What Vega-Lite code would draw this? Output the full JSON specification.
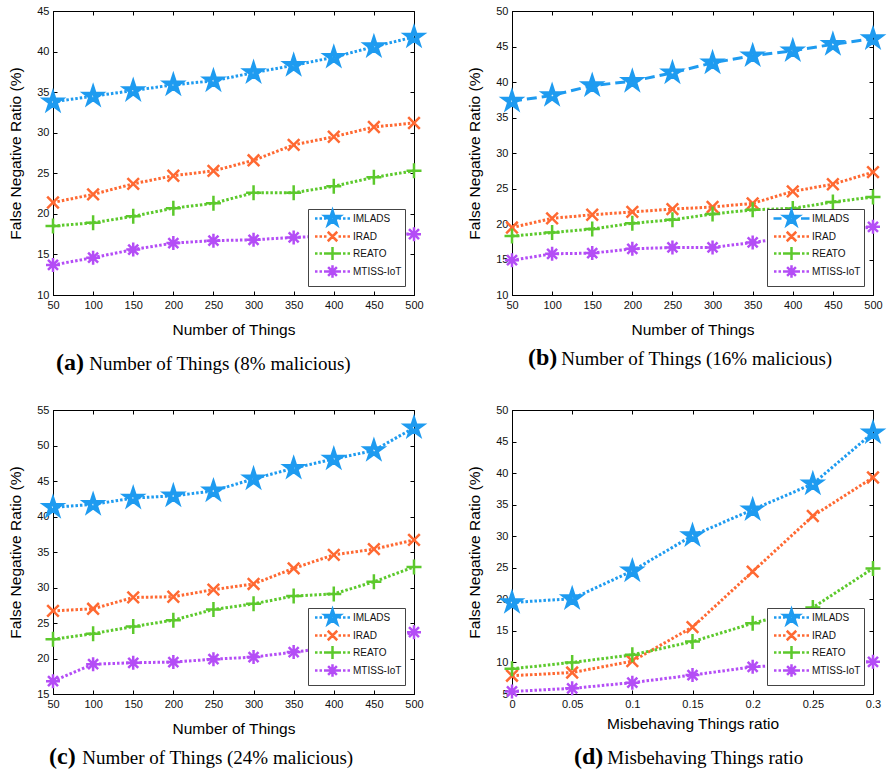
{
  "$schema": "https://vega.github.io/schema/vega-lite/v6.json",
  "background": "white",
  "padding": {"left": 8, "top": 4, "right": 2, "bottom": 2},
  "datasets": {
    "a": [
      {"x": 50, "s": "IMLADS", "v": 33.8}, {"x": 100, "s": "IMLADS", "v": 34.5}, {"x": 150, "s": "IMLADS", "v": 35.2}, {"x": 200, "s": "IMLADS", "v": 35.9}, {"x": 250, "s": "IMLADS", "v": 36.4}, {"x": 300, "s": "IMLADS", "v": 37.4}, {"x": 350, "s": "IMLADS", "v": 38.3}, {"x": 400, "s": "IMLADS", "v": 39.3}, {"x": 450, "s": "IMLADS", "v": 40.6}, {"x": 500, "s": "IMLADS", "v": 41.8},
      {"x": 50, "s": "IRAD", "v": 21.4}, {"x": 100, "s": "IRAD", "v": 22.4}, {"x": 150, "s": "IRAD", "v": 23.7}, {"x": 200, "s": "IRAD", "v": 24.7}, {"x": 250, "s": "IRAD", "v": 25.3}, {"x": 300, "s": "IRAD", "v": 26.6}, {"x": 350, "s": "IRAD", "v": 28.5}, {"x": 400, "s": "IRAD", "v": 29.5}, {"x": 450, "s": "IRAD", "v": 30.7}, {"x": 500, "s": "IRAD", "v": 31.2},
      {"x": 50, "s": "REATO", "v": 18.5}, {"x": 100, "s": "REATO", "v": 18.9}, {"x": 150, "s": "REATO", "v": 19.7}, {"x": 200, "s": "REATO", "v": 20.7}, {"x": 250, "s": "REATO", "v": 21.3}, {"x": 300, "s": "REATO", "v": 22.6}, {"x": 350, "s": "REATO", "v": 22.6}, {"x": 400, "s": "REATO", "v": 23.4}, {"x": 450, "s": "REATO", "v": 24.5}, {"x": 500, "s": "REATO", "v": 25.3},
      {"x": 50, "s": "MTISS-IoT", "v": 13.7}, {"x": 100, "s": "MTISS-IoT", "v": 14.6}, {"x": 150, "s": "MTISS-IoT", "v": 15.6}, {"x": 200, "s": "MTISS-IoT", "v": 16.4}, {"x": 250, "s": "MTISS-IoT", "v": 16.7}, {"x": 300, "s": "MTISS-IoT", "v": 16.8}, {"x": 350, "s": "MTISS-IoT", "v": 17.1}, {"x": 400, "s": "MTISS-IoT", "v": 17.3}, {"x": 450, "s": "MTISS-IoT", "v": 17.6}, {"x": 500, "s": "MTISS-IoT", "v": 17.5}
    ],
    "b": [
      {"x": 50, "s": "IMLADS", "v": 37.3}, {"x": 100, "s": "IMLADS", "v": 38.1}, {"x": 150, "s": "IMLADS", "v": 39.5}, {"x": 200, "s": "IMLADS", "v": 40.1}, {"x": 250, "s": "IMLADS", "v": 41.3}, {"x": 300, "s": "IMLADS", "v": 42.7}, {"x": 350, "s": "IMLADS", "v": 43.7}, {"x": 400, "s": "IMLADS", "v": 44.4}, {"x": 450, "s": "IMLADS", "v": 45.3}, {"x": 500, "s": "IMLADS", "v": 46.1},
      {"x": 50, "s": "IRAD", "v": 19.5}, {"x": 100, "s": "IRAD", "v": 20.8}, {"x": 150, "s": "IRAD", "v": 21.3}, {"x": 200, "s": "IRAD", "v": 21.7}, {"x": 250, "s": "IRAD", "v": 22.1}, {"x": 300, "s": "IRAD", "v": 22.4}, {"x": 350, "s": "IRAD", "v": 22.9}, {"x": 400, "s": "IRAD", "v": 24.6}, {"x": 450, "s": "IRAD", "v": 25.6}, {"x": 500, "s": "IRAD", "v": 27.3},
      {"x": 50, "s": "REATO", "v": 18.3}, {"x": 100, "s": "REATO", "v": 18.8}, {"x": 150, "s": "REATO", "v": 19.3}, {"x": 200, "s": "REATO", "v": 20.1}, {"x": 250, "s": "REATO", "v": 20.6}, {"x": 300, "s": "REATO", "v": 21.4}, {"x": 350, "s": "REATO", "v": 22.0}, {"x": 400, "s": "REATO", "v": 22.2}, {"x": 450, "s": "REATO", "v": 23.1}, {"x": 500, "s": "REATO", "v": 23.8},
      {"x": 50, "s": "MTISS-IoT", "v": 14.9}, {"x": 100, "s": "MTISS-IoT", "v": 15.8}, {"x": 150, "s": "MTISS-IoT", "v": 15.9}, {"x": 200, "s": "MTISS-IoT", "v": 16.5}, {"x": 250, "s": "MTISS-IoT", "v": 16.7}, {"x": 300, "s": "MTISS-IoT", "v": 16.7}, {"x": 350, "s": "MTISS-IoT", "v": 17.4}, {"x": 400, "s": "MTISS-IoT", "v": 18.2}, {"x": 450, "s": "MTISS-IoT", "v": 18.9}, {"x": 500, "s": "MTISS-IoT", "v": 19.6}
    ],
    "c": [
      {"x": 50, "s": "IMLADS", "v": 41.3}, {"x": 100, "s": "IMLADS", "v": 41.7}, {"x": 150, "s": "IMLADS", "v": 42.6}, {"x": 200, "s": "IMLADS", "v": 42.9}, {"x": 250, "s": "IMLADS", "v": 43.6}, {"x": 300, "s": "IMLADS", "v": 45.3}, {"x": 350, "s": "IMLADS", "v": 46.8}, {"x": 400, "s": "IMLADS", "v": 48.1}, {"x": 450, "s": "IMLADS", "v": 49.3}, {"x": 500, "s": "IMLADS", "v": 52.5},
      {"x": 50, "s": "IRAD", "v": 26.7}, {"x": 100, "s": "IRAD", "v": 27.0}, {"x": 150, "s": "IRAD", "v": 28.6}, {"x": 200, "s": "IRAD", "v": 28.7}, {"x": 250, "s": "IRAD", "v": 29.7}, {"x": 300, "s": "IRAD", "v": 30.5}, {"x": 350, "s": "IRAD", "v": 32.7}, {"x": 400, "s": "IRAD", "v": 34.6}, {"x": 450, "s": "IRAD", "v": 35.4}, {"x": 500, "s": "IRAD", "v": 36.7},
      {"x": 50, "s": "REATO", "v": 22.7}, {"x": 100, "s": "REATO", "v": 23.5}, {"x": 150, "s": "REATO", "v": 24.5}, {"x": 200, "s": "REATO", "v": 25.4}, {"x": 250, "s": "REATO", "v": 26.9}, {"x": 300, "s": "REATO", "v": 27.7}, {"x": 350, "s": "REATO", "v": 28.8}, {"x": 400, "s": "REATO", "v": 29.1}, {"x": 450, "s": "REATO", "v": 30.8}, {"x": 500, "s": "REATO", "v": 32.9},
      {"x": 50, "s": "MTISS-IoT", "v": 16.8}, {"x": 100, "s": "MTISS-IoT", "v": 19.2}, {"x": 150, "s": "MTISS-IoT", "v": 19.4}, {"x": 200, "s": "MTISS-IoT", "v": 19.5}, {"x": 250, "s": "MTISS-IoT", "v": 19.9}, {"x": 300, "s": "MTISS-IoT", "v": 20.2}, {"x": 350, "s": "MTISS-IoT", "v": 20.9}, {"x": 400, "s": "MTISS-IoT", "v": 21.6}, {"x": 450, "s": "MTISS-IoT", "v": 22.4}, {"x": 500, "s": "MTISS-IoT", "v": 23.7}
    ],
    "d": [
      {"x": 0, "s": "IMLADS", "v": 19.5}, {"x": 0.05, "s": "IMLADS", "v": 20.1}, {"x": 0.1, "s": "IMLADS", "v": 24.5}, {"x": 0.15, "s": "IMLADS", "v": 30.1}, {"x": 0.2, "s": "IMLADS", "v": 34.2}, {"x": 0.25, "s": "IMLADS", "v": 38.3}, {"x": 0.3, "s": "IMLADS", "v": 46.4},
      {"x": 0, "s": "IRAD", "v": 7.9}, {"x": 0.05, "s": "IRAD", "v": 8.4}, {"x": 0.1, "s": "IRAD", "v": 10.2}, {"x": 0.15, "s": "IRAD", "v": 15.6}, {"x": 0.2, "s": "IRAD", "v": 24.4}, {"x": 0.25, "s": "IRAD", "v": 33.2}, {"x": 0.3, "s": "IRAD", "v": 39.3},
      {"x": 0, "s": "REATO", "v": 9.0}, {"x": 0.05, "s": "REATO", "v": 10.0}, {"x": 0.1, "s": "REATO", "v": 11.2}, {"x": 0.15, "s": "REATO", "v": 13.3}, {"x": 0.2, "s": "REATO", "v": 16.2}, {"x": 0.25, "s": "REATO", "v": 18.7}, {"x": 0.3, "s": "REATO", "v": 24.9},
      {"x": 0, "s": "MTISS-IoT", "v": 5.4}, {"x": 0.05, "s": "MTISS-IoT", "v": 5.9}, {"x": 0.1, "s": "MTISS-IoT", "v": 6.8}, {"x": 0.15, "s": "MTISS-IoT", "v": 8.0}, {"x": 0.2, "s": "MTISS-IoT", "v": 9.3}, {"x": 0.25, "s": "MTISS-IoT", "v": 9.8}, {"x": 0.3, "s": "MTISS-IoT", "v": 10.1}
    ]
  },
  "columns": 2,
  "spacing": {"column": 37, "row": 28},
  "concat": [
    {
      "width": 361, "height": 284,
      "data": {"name": "a"},
      "title": {"text": "(a)", "subtitle": "\u200b\u00a0\u00a0\u00a0\u00a0\u00a0\u00a0\u00a0Number of Things (8% malicious)", "dx": 3, "offset": 13},
      "layer": [
        {
          "mark": {"type": "line", "strokeWidth": 3, "strokeDash": [2.5, 2]},
          "encoding": {
            "x": {"field": "x", "type": "quantitative", "scale": {"domain": [50, 500]}, "axis": {"orient": "bottom", "values": [50, 100, 150, 200, 250, 300, 350, 400, 450, 500], "title": "Number of Things"}},
            "y": {"field": "v", "type": "quantitative", "scale": {"domain": [10, 45]}, "axis": {"orient": "left", "values": [10, 15, 20, 25, 30, 35, 40, 45], "title": "False Negative Ratio (%)"}},
            "color": {"field": "s", "type": "nominal", "scale": {"domain": ["IMLADS", "IRAD", "REATO", "MTISS-IoT"], "range": ["#1E9BF0", "#FF6932", "#5CC92C", "#B44DF6"]}, "legend": null}
          }
        },
        {
          "mark": {"type": "point", "filled": false, "strokeWidth": 2.5, "size": 400, "opacity": 1},
          "encoding": {
            "x": {"field": "x", "type": "quantitative", "axis": {"orient": "top", "labels": false, "title": null, "domain": false, "values": [50, 100, 150, 200, 250, 300, 350, 400, 450, 500]}},
            "y": {"field": "v", "type": "quantitative", "axis": {"orient": "right", "labels": false, "title": null, "domain": false, "values": [10, 15, 20, 25, 30, 35, 40, 45]}},
            "color": {"field": "s", "type": "nominal", "legend": null},
            "shape": {"field": "s", "type": "nominal", "legend": null, "scale": {"domain": ["IMLADS", "IRAD", "REATO", "MTISS-IoT"], "range": [
              "M0,-1L0.2245,-0.309L0.951,-0.309L0.3633,0.118L0.588,0.809L0,0.382L-0.588,0.809L-0.3633,0.118L-0.951,-0.309L-0.2245,-0.309ZM0,-0.55L0.123,-0.17L0.523,-0.17L0.2,0.065L0.323,0.445L0,0.21L-0.323,0.445L-0.2,0.065L-0.523,-0.17L-0.123,-0.17Z",
              "M-0.58,-0.58L0.58,0.58M-0.58,0.58L0.58,-0.58",
              "M-0.75,0L0.75,0M0,-0.75L0,0.75",
              "M-0.7,0L0.7,0M0,-0.7L0,0.7M-0.5,-0.5L0.5,0.5M-0.5,0.5L0.5,-0.5"]}}
          }
        },
        {
          "transform": [{"filter": "false"}],
          "mark": {"type": "point", "filled": false, "strokeWidth": 2.5, "size": 100, "opacity": 1},
          "encoding": {
            "color": {"field": "s", "type": "nominal", "legend": {}},
            "shape": {"field": "s", "type": "nominal", "legend": {}, "scale": {"domain": ["IMLADS", "IRAD", "REATO", "MTISS-IoT"], "range": [
              "M-3.5,0h0.5M-2.6,0h0.5M-1.7,0h0.5M1.2,0h0.5M2.1,0h0.5M3,0h0.5M0,-1.6L0.359,-0.494L1.522,-0.494L0.582,0.189L0.94,1.294L0,0.611L-0.94,1.294L-0.582,0.189L-1.522,-0.494L-0.359,-0.494ZM0,-0.88L0.197,-0.272L0.837,-0.272L0.32,0.104L0.517,0.712L0,0.336L-0.517,0.712L-0.32,0.104L-0.837,-0.272L-0.197,-0.272Z",
              "M-3.5,0h0.5M-2.6,0h0.5M-1.7,0h0.5M1.2,0h0.5M2.1,0h0.5M3,0h0.5M-0.95,-0.95L0.95,0.95M-0.95,0.95L0.95,-0.95",
              "M-3.5,0h0.5M-2.6,0h0.5M-1.7,0h0.5M1.2,0h0.5M2.1,0h0.5M3,0h0.5M-1.3,0L1.3,0M0,-1.3L0,1.3",
              "M-3.5,0h0.5M-2.6,0h0.5M-1.7,0h0.5M1.2,0h0.5M2.1,0h0.5M3,0h0.5M-1.25,0L1.25,0M0,-1.25L0,1.25M-0.88,-0.88L0.88,0.88M-0.88,0.88L0.88,-0.88"]}}
          }
        }
      ],
      "resolve": {"axis": {"x": "independent", "y": "independent"}, "scale": {"shape": "independent"}, "legend": {"color": "independent", "shape": "independent"}}
    },
    {
      "width": 361, "height": 284,
      "data": {"name": "b"},
      "title": {"text": "(b)", "subtitle": "\u200b\u00a0\u00a0\u00a0\u00a0\u00a0\u00a0\u00a0Number of Things (16% malicious)", "dx": 16, "offset": 8},
      "layer": [
        {
          "mark": {"type": "line", "strokeWidth": 3},
          "encoding": {
            "x": {"field": "x", "type": "quantitative", "scale": {"domain": [50, 500]}, "axis": {"orient": "bottom", "values": [50, 100, 150, 200, 250, 300, 350, 400, 450, 500], "title": "Number of Things"}},
            "y": {"field": "v", "type": "quantitative", "scale": {"domain": [10, 50]}, "axis": {"orient": "left", "values": [10, 15, 20, 25, 30, 35, 40, 45, 50], "title": "False Negative Ratio (%)"}},
            "color": {"field": "s", "type": "nominal", "scale": {"domain": ["IMLADS", "IRAD", "REATO", "MTISS-IoT"], "range": ["#1E9BF0", "#FF6932", "#5CC92C", "#B44DF6"]}, "legend": null},
            "strokeDash": {"field": "s", "type": "nominal", "scale": {"domain": ["IMLADS", "IRAD", "REATO", "MTISS-IoT"], "range": [[10, 5], [2.5, 2], [2.5, 2], [2.5, 2]]}, "legend": null}
          }
        },
        {
          "mark": {"type": "point", "filled": false, "strokeWidth": 2.5, "size": 400, "opacity": 1},
          "encoding": {
            "x": {"field": "x", "type": "quantitative", "axis": {"orient": "top", "labels": false, "title": null, "domain": false, "values": [50, 100, 150, 200, 250, 300, 350, 400, 450, 500]}},
            "y": {"field": "v", "type": "quantitative", "axis": {"orient": "right", "labels": false, "title": null, "domain": false, "values": [10, 15, 20, 25, 30, 35, 40, 45, 50]}},
            "color": {"field": "s", "type": "nominal", "legend": null},
            "shape": {"field": "s", "type": "nominal", "legend": null, "scale": {"domain": ["IMLADS", "IRAD", "REATO", "MTISS-IoT"], "range": [
              "M0,-1L0.2245,-0.309L0.951,-0.309L0.3633,0.118L0.588,0.809L0,0.382L-0.588,0.809L-0.3633,0.118L-0.951,-0.309L-0.2245,-0.309ZM0,-0.55L0.123,-0.17L0.523,-0.17L0.2,0.065L0.323,0.445L0,0.21L-0.323,0.445L-0.2,0.065L-0.523,-0.17L-0.123,-0.17Z",
              "M-0.58,-0.58L0.58,0.58M-0.58,0.58L0.58,-0.58",
              "M-0.75,0L0.75,0M0,-0.75L0,0.75",
              "M-0.7,0L0.7,0M0,-0.7L0,0.7M-0.5,-0.5L0.5,0.5M-0.5,0.5L0.5,-0.5"]}}
          }
        },
        {
          "transform": [{"filter": "false"}],
          "mark": {"type": "point", "filled": false, "strokeWidth": 2.5, "size": 100, "opacity": 1},
          "encoding": {
            "color": {"field": "s", "type": "nominal", "legend": {}},
            "shape": {"field": "s", "type": "nominal", "legend": {}, "scale": {"domain": ["IMLADS", "IRAD", "REATO", "MTISS-IoT"], "range": [
              "M-3.6,0h1.6M1.9,0h1.7M0,-1.6L0.359,-0.494L1.522,-0.494L0.582,0.189L0.94,1.294L0,0.611L-0.94,1.294L-0.582,0.189L-1.522,-0.494L-0.359,-0.494ZM0,-0.88L0.197,-0.272L0.837,-0.272L0.32,0.104L0.517,0.712L0,0.336L-0.517,0.712L-0.32,0.104L-0.837,-0.272L-0.197,-0.272Z",
              "M-3.5,0h0.5M-2.6,0h0.5M-1.7,0h0.5M1.2,0h0.5M2.1,0h0.5M3,0h0.5M-0.95,-0.95L0.95,0.95M-0.95,0.95L0.95,-0.95",
              "M-3.5,0h0.5M-2.6,0h0.5M-1.7,0h0.5M1.2,0h0.5M2.1,0h0.5M3,0h0.5M-1.3,0L1.3,0M0,-1.3L0,1.3",
              "M-3.5,0h0.5M-2.6,0h0.5M-1.7,0h0.5M1.2,0h0.5M2.1,0h0.5M3,0h0.5M-1.25,0L1.25,0M0,-1.25L0,1.25M-0.88,-0.88L0.88,0.88M-0.88,0.88L0.88,-0.88"]}}
          }
        }
      ],
      "resolve": {"axis": {"x": "independent", "y": "independent"}, "scale": {"shape": "independent"}, "legend": {"color": "independent", "shape": "independent"}}
    },
    {
      "width": 361, "height": 284,
      "data": {"name": "c"},
      "title": {"text": "(c)", "subtitle": "\u200b\u00a0\u00a0\u00a0\u00a0\u00a0\u00a0\u00a0Number of Things (24% malicious)", "dx": -4, "offset": 8},
      "layer": [
        {
          "mark": {"type": "line", "strokeWidth": 3, "strokeDash": [2.5, 2]},
          "encoding": {
            "x": {"field": "x", "type": "quantitative", "scale": {"domain": [50, 500]}, "axis": {"orient": "bottom", "values": [50, 100, 150, 200, 250, 300, 350, 400, 450, 500], "title": "Number of Things"}},
            "y": {"field": "v", "type": "quantitative", "scale": {"domain": [15, 55]}, "axis": {"orient": "left", "values": [15, 20, 25, 30, 35, 40, 45, 50, 55], "title": "False Negative Ratio (%)"}},
            "color": {"field": "s", "type": "nominal", "scale": {"domain": ["IMLADS", "IRAD", "REATO", "MTISS-IoT"], "range": ["#1E9BF0", "#FF6932", "#5CC92C", "#B44DF6"]}, "legend": null}
          }
        },
        {
          "mark": {"type": "point", "filled": false, "strokeWidth": 2.5, "size": 400, "opacity": 1},
          "encoding": {
            "x": {"field": "x", "type": "quantitative", "axis": {"orient": "top", "labels": false, "title": null, "domain": false, "values": [50, 100, 150, 200, 250, 300, 350, 400, 450, 500]}},
            "y": {"field": "v", "type": "quantitative", "axis": {"orient": "right", "labels": false, "title": null, "domain": false, "values": [15, 20, 25, 30, 35, 40, 45, 50, 55]}},
            "color": {"field": "s", "type": "nominal", "legend": null},
            "shape": {"field": "s", "type": "nominal", "legend": null, "scale": {"domain": ["IMLADS", "IRAD", "REATO", "MTISS-IoT"], "range": [
              "M0,-1L0.2245,-0.309L0.951,-0.309L0.3633,0.118L0.588,0.809L0,0.382L-0.588,0.809L-0.3633,0.118L-0.951,-0.309L-0.2245,-0.309ZM0,-0.55L0.123,-0.17L0.523,-0.17L0.2,0.065L0.323,0.445L0,0.21L-0.323,0.445L-0.2,0.065L-0.523,-0.17L-0.123,-0.17Z",
              "M-0.58,-0.58L0.58,0.58M-0.58,0.58L0.58,-0.58",
              "M-0.75,0L0.75,0M0,-0.75L0,0.75",
              "M-0.7,0L0.7,0M0,-0.7L0,0.7M-0.5,-0.5L0.5,0.5M-0.5,0.5L0.5,-0.5"]}}
          }
        },
        {
          "transform": [{"filter": "false"}],
          "mark": {"type": "point", "filled": false, "strokeWidth": 2.5, "size": 100, "opacity": 1},
          "encoding": {
            "color": {"field": "s", "type": "nominal", "legend": {}},
            "shape": {"field": "s", "type": "nominal", "legend": {}, "scale": {"domain": ["IMLADS", "IRAD", "REATO", "MTISS-IoT"], "range": [
              "M-3.5,0h0.5M-2.6,0h0.5M-1.7,0h0.5M1.2,0h0.5M2.1,0h0.5M3,0h0.5M0,-1.6L0.359,-0.494L1.522,-0.494L0.582,0.189L0.94,1.294L0,0.611L-0.94,1.294L-0.582,0.189L-1.522,-0.494L-0.359,-0.494ZM0,-0.88L0.197,-0.272L0.837,-0.272L0.32,0.104L0.517,0.712L0,0.336L-0.517,0.712L-0.32,0.104L-0.837,-0.272L-0.197,-0.272Z",
              "M-3.5,0h0.5M-2.6,0h0.5M-1.7,0h0.5M1.2,0h0.5M2.1,0h0.5M3,0h0.5M-0.95,-0.95L0.95,0.95M-0.95,0.95L0.95,-0.95",
              "M-3.5,0h0.5M-2.6,0h0.5M-1.7,0h0.5M1.2,0h0.5M2.1,0h0.5M3,0h0.5M-1.3,0L1.3,0M0,-1.3L0,1.3",
              "M-3.5,0h0.5M-2.6,0h0.5M-1.7,0h0.5M1.2,0h0.5M2.1,0h0.5M3,0h0.5M-1.25,0L1.25,0M0,-1.25L0,1.25M-0.88,-0.88L0.88,0.88M-0.88,0.88L0.88,-0.88"]}}
          }
        }
      ],
      "resolve": {"axis": {"x": "independent", "y": "independent"}, "scale": {"shape": "independent"}, "legend": {"color": "independent", "shape": "independent"}}
    },
    {
      "width": 361, "height": 284,
      "data": {"name": "d"},
      "title": {"text": "(d)", "subtitle": "\u200b\u00a0\u00a0\u00a0\u00a0\u00a0\u00a0\u00a0Misbehaving Things ratio", "dx": 62, "offset": 13},
      "layer": [
        {
          "mark": {"type": "line", "strokeWidth": 3, "strokeDash": [2.5, 2]},
          "encoding": {
            "x": {"field": "x", "type": "quantitative", "scale": {"domain": [0, 0.3]}, "axis": {"orient": "bottom", "values": [0, 0.05, 0.1, 0.15, 0.2, 0.25, 0.3], "format": "~g", "title": "Misbehaving Things ratio", "titlePadding": 7}},
            "y": {"field": "v", "type": "quantitative", "scale": {"domain": [5, 50]}, "axis": {"orient": "left", "values": [5, 10, 15, 20, 25, 30, 35, 40, 45, 50], "title": "False Negative Ratio (%)"}},
            "color": {"field": "s", "type": "nominal", "scale": {"domain": ["IMLADS", "IRAD", "REATO", "MTISS-IoT"], "range": ["#1E9BF0", "#FF6932", "#5CC92C", "#B44DF6"]}, "legend": null}
          }
        },
        {
          "mark": {"type": "point", "filled": false, "strokeWidth": 2.5, "size": 400, "opacity": 1},
          "encoding": {
            "x": {"field": "x", "type": "quantitative", "axis": {"orient": "top", "labels": false, "title": null, "domain": false, "values": [0, 0.05, 0.1, 0.15, 0.2, 0.25, 0.3]}},
            "y": {"field": "v", "type": "quantitative", "axis": {"orient": "right", "labels": false, "title": null, "domain": false, "values": [5, 10, 15, 20, 25, 30, 35, 40, 45, 50]}},
            "color": {"field": "s", "type": "nominal", "legend": null},
            "shape": {"field": "s", "type": "nominal", "legend": null, "scale": {"domain": ["IMLADS", "IRAD", "REATO", "MTISS-IoT"], "range": [
              "M0,-1L0.2245,-0.309L0.951,-0.309L0.3633,0.118L0.588,0.809L0,0.382L-0.588,0.809L-0.3633,0.118L-0.951,-0.309L-0.2245,-0.309ZM0,-0.55L0.123,-0.17L0.523,-0.17L0.2,0.065L0.323,0.445L0,0.21L-0.323,0.445L-0.2,0.065L-0.523,-0.17L-0.123,-0.17Z",
              "M-0.58,-0.58L0.58,0.58M-0.58,0.58L0.58,-0.58",
              "M-0.75,0L0.75,0M0,-0.75L0,0.75",
              "M-0.7,0L0.7,0M0,-0.7L0,0.7M-0.5,-0.5L0.5,0.5M-0.5,0.5L0.5,-0.5"]}}
          }
        },
        {
          "transform": [{"filter": "false"}],
          "mark": {"type": "point", "filled": false, "strokeWidth": 2.5, "size": 100, "opacity": 1},
          "encoding": {
            "color": {"field": "s", "type": "nominal", "legend": {}},
            "shape": {"field": "s", "type": "nominal", "legend": {}, "scale": {"domain": ["IMLADS", "IRAD", "REATO", "MTISS-IoT"], "range": [
              "M-3.5,0h0.5M-2.6,0h0.5M-1.7,0h0.5M1.2,0h0.5M2.1,0h0.5M3,0h0.5M0,-1.6L0.359,-0.494L1.522,-0.494L0.582,0.189L0.94,1.294L0,0.611L-0.94,1.294L-0.582,0.189L-1.522,-0.494L-0.359,-0.494ZM0,-0.88L0.197,-0.272L0.837,-0.272L0.32,0.104L0.517,0.712L0,0.336L-0.517,0.712L-0.32,0.104L-0.837,-0.272L-0.197,-0.272Z",
              "M-3.5,0h0.5M-2.6,0h0.5M-1.7,0h0.5M1.2,0h0.5M2.1,0h0.5M3,0h0.5M-0.95,-0.95L0.95,0.95M-0.95,0.95L0.95,-0.95",
              "M-3.5,0h0.5M-2.6,0h0.5M-1.7,0h0.5M1.2,0h0.5M2.1,0h0.5M3,0h0.5M-1.3,0L1.3,0M0,-1.3L0,1.3",
              "M-3.5,0h0.5M-2.6,0h0.5M-1.7,0h0.5M1.2,0h0.5M2.1,0h0.5M3,0h0.5M-1.25,0L1.25,0M0,-1.25L0,1.25M-0.88,-0.88L0.88,0.88M-0.88,0.88L0.88,-0.88"]}}
          }
        }
      ],
      "resolve": {"axis": {"x": "independent", "y": "independent"}, "scale": {"shape": "independent"}, "legend": {"color": "independent", "shape": "independent"}}
    }
  ],
  "config": {
    "view": {"stroke": "#000", "strokeWidth": 1},
    "axis": {
      "grid": false,
      "domainColor": "#000",
      "domainWidth": 1,
      "tickColor": "#000",
      "tickSize": -4,
      "tickWidth": 1,
      "labelFont": "Liberation Sans",
      "labelFontSize": 11,
      "labelColor": "#111",
      "titleFont": "Liberation Sans",
      "titleFontSize": 15.5,
      "titleFontWeight": "normal",
      "titleColor": "#000",
      "titlePadding": 12
    },
    "axisX": {"labelPadding": 8, "labelFlush": false},
    "axisY": {"labelPadding": 8, "titlePadding": 13},
    "legend": {
      "title": null,
      "orient": "bottom-right",
      "offset": 9,
      "padding": 3,
      "strokeColor": "#444",
      "fillColor": "white",
      "cornerRadius": 0,
      "labelFont": "Liberation Sans",
      "labelFontSize": 10,
      "labelColor": "#111",
      "symbolSize": 100,
      "symbolStrokeWidth": 2.5,
      "rowPadding": -20,
      "symbolOffset": 15,
      "labelOffset": 14
    },
    "title": {
      "orient": "bottom",
      "anchor": "start",
      "frame": "group",
      "align": "left",
      "font": "Liberation Serif",
      "fontSize": 24,
      "fontWeight": "bold",
      "color": "#000",
      "subtitleFont": "Liberation Serif",
      "subtitleFontSize": 19,
      "subtitleColor": "#000",
      "subtitlePadding": -20
    }
  }
}
